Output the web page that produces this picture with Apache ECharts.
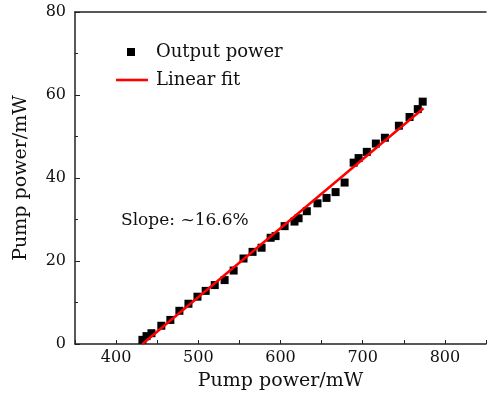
<!DOCTYPE html>
<html>
<head>
<meta charset="utf-8">
<script src="https://cdn.jsdelivr.net/npm/echarts@6/dist/echarts.min.js"></script>
<style>
  html, body { margin: 0; padding: 0; background: #fff; }
  #chart { width: 489px; height: 403px; }
</style>
</head>
<body>
<div id="chart"></div>
<script>
// measured output power vs pump power
const pumpPower = [432, 437, 443, 455, 466, 477, 488, 499, 509, 520, 532, 543, 555, 566, 577, 588, 594,
    605, 617, 622, 632, 645, 656, 667, 678, 689, 695, 705, 716, 727, 744, 757, 767, 773];
const outputPower = [1.0, 1.9, 2.6, 4.4, 5.8, 8.0, 9.7, 11.4, 12.8, 14.2, 15.4, 17.7, 20.6, 22.2, 23.2, 25.6, 26.0,
    28.4, 29.5, 30.3, 32.0, 33.9, 35.2, 36.6, 38.9, 43.7, 44.8, 46.3, 48.3, 49.7, 52.6, 54.7, 56.6, 58.4];
// linear fit end points
const fitX = [432, 774];
const fitY = [0, 56.8];

const font = 'DejaVu Serif';
const axisColor = '#222';

const chart = echarts.init(document.getElementById('chart'), null, { renderer: 'canvas' });

chart.setOption({
    animation: false,
    backgroundColor: '#fff',
    textStyle: { fontFamily: font },
    grid: { left: 75, right: 0, top: 12, bottom: 59 },
    legend: [
        {
            left: 127, top: 43, padding: 0,
            itemWidth: 8, itemHeight: 8,
            textStyle: { fontFamily: font, fontSize: 18, color: '#111', padding: [0, 0, 0, 16] },
            data: [{ name: 'Output power', icon: 'rect' }]
        },
        {
            left: 116, top: 71, padding: 0,
            itemWidth: 32, itemHeight: 8,
            textStyle: { fontFamily: font, fontSize: 18, color: '#111', padding: [0, 0, 0, 3] },
            data: [{ name: 'Linear fit', icon: 'path://M0,0h32v2.6h-32z', itemStyle: { color: '#ff0000' } }]
        }
    ],
    graphic: [{
        type: 'text', left: 121, top: 212,
        style: { text: 'Slope: ~16.6%', font: '17px "DejaVu Serif"', fill: '#111' }
    }],
    xAxis: [
        {
            type: 'value', min: 350, max: 850, interval: 50,
            name: 'Pump power/mW', nameLocation: 'middle', nameGap: 28,
            nameTextStyle: { fontFamily: font, fontSize: 19, color: '#111' },
            axisLine: { lineStyle: { color: axisColor, width: 1.5 } },
            axisTick: { inside: true, length: 4, lineStyle: { color: axisColor } },
            axisLabel: {
                fontFamily: font, fontSize: 16, color: '#111', margin: 6,
                formatter: v => (v % 100 === 0 && v > 350 && v < 850) ? String(v) : ''
            },
            splitLine: { show: false }
        },
        {
            type: 'value', position: 'top', min: 350, max: 850,
            axisLine: { show: true, onZero: false, lineStyle: { color: axisColor, width: 1.5 } },
            axisTick: { show: false }, axisLabel: { show: false }, splitLine: { show: false }
        }
    ],
    yAxis: {
        type: 'value', min: 0, max: 80, interval: 20,
        name: 'Pump power/mW', nameLocation: 'middle', nameGap: 44,
        nameTextStyle: { fontFamily: font, fontSize: 19, color: '#111' },
        axisLine: { show: true, lineStyle: { color: axisColor, width: 1.5 } },
        axisTick: { inside: true, length: 5, lineStyle: { color: axisColor } },
        minorTick: { show: true, splitNumber: 2, length: 3, lineStyle: { color: axisColor } },
        axisLabel: { fontFamily: font, fontSize: 16, color: '#111', margin: 9 },
        splitLine: { show: false }
    },
    series: [
        {
            name: 'Output power', type: 'scatter',
            symbol: 'rect', symbolSize: 8,
            itemStyle: { color: '#000', opacity: 1 },
            data: pumpPower.map((x, i) => [x, outputPower[i]]),
            z: 2
        },
        {
            name: 'Linear fit', type: 'line',
            showSymbol: false, symbol: 'none',
            lineStyle: { color: '#ff0000', width: 2.5 },
            itemStyle: { color: '#ff0000' },
            data: fitX.map((x, i) => [x, fitY[i]]),
            z: 3
        }
    ]
});
</script>
</body>
</html>
